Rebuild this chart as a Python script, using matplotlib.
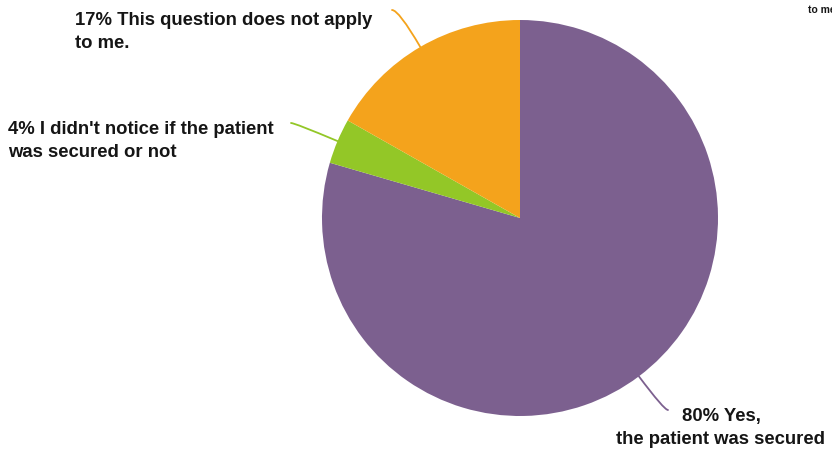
import numpy as np
import matplotlib
matplotlib.use('Agg')
import matplotlib.pyplot as plt

# Pie data (clockwise from 12 o'clock)
labels = ['80% Yes,\nthe patient was secured',
          "4% I didn't notice if the patient\nwas secured or not",
          '17% This question does not apply\nto me.']
values = [79.5, 3.7, 16.8]
colors = ['#7C608F', '#93C727', '#F4A31C']

# label placement (figure pixels, y from top) and alignment
label_pos = [(721, 428), (8, 141), (75, 32)]
label_ha = ['center', 'left', 'left']
line_end = [(668, 410), (291, 123), (392, 10)]

W, H = 832, 457
fig = plt.figure(figsize=(W / 100, H / 100), dpi=100)
ax = fig.add_axes([0, 0, 1, 1])

cx, cy, r = 520, H - 218, 198
wedges, _ = ax.pie(values, colors=colors, startangle=90, counterclock=False,
                   center=(cx, cy), radius=r, frame=True,
                   wedgeprops=dict(linewidth=0))
ax.set_xlim(0, W)
ax.set_ylim(0, H)
ax.set_aspect('equal')
ax.axis('off')

for w, lab, (tx, ty), ha, (ex, ey), col in zip(wedges, labels, label_pos,
                                               label_ha, line_end, colors):
    mid = (w.theta1 + w.theta2) / 2
    px = cx + r * np.cos(np.radians(mid))
    py = cy + r * np.sin(np.radians(mid))
    ax.annotate('', xy=(px, py), xytext=(ex, H - ey),
                arrowprops=dict(arrowstyle='-', color=col, lw=1.3,
                                shrinkA=0, shrinkB=0,
                                connectionstyle=f'angle3,angleA=0,angleB={mid}'))
    ax.text(tx, H - ty, lab, ha=ha, va='center', fontsize=13.3,
            fontweight='bold', family='Liberation Sans', color='#151515',
            linespacing=1.5, multialignment=ha)

# clipped fragment at top right
ax.text(808, H - 10, 'to me.', ha='left', va='center', fontsize=7.5,
        fontweight='bold', family='Liberation Sans', color='#151515')

fig.savefig('out.png', dpi=100)
